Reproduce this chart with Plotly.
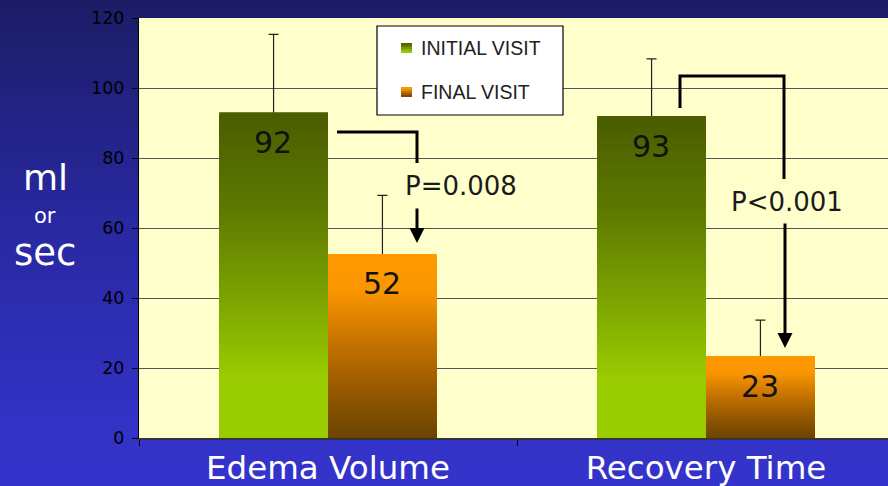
import base64
import plotly.graph_objects as go

# ---------------- data ----------------
categories = ["Edema Volume", "Recovery Time"]
series_names = ["INITIAL VISIT", "FINAL VISIT"]
initial_values = [93.1, 92.0]
final_values = [52.6, 23.4]
initial_err = [22.2, 16.3]
final_err = [16.7, 10.3]
initial_labels = ["92", "93"]
final_labels = ["52", "23"]
p_labels = ["P=0.008", "P<0.001"]
y_ticks = [0, 20, 40, 60, 80, 100, 120]

# ---------------- layout geometry ----------------
W, H = 888, 486
ML, MR, MT, MB = 139, 0, 18, 48
PW, PH = W - ML - MR, H - MT - MB
X_UNIT = 378.0
x_max = -0.5 + PW / X_UNIT
BAR_W = 0.288


def px_x(px):
    return (px - ML) / PW


def px_y(py):
    return (H - MB - py) / PH


def dx(px):  # pixel -> category-axis data units
    return -0.5 + (px - ML) / X_UNIT


def dy(py):  # pixel -> y data units
    return (H - MB - py) / PH * 120.0


def hex2rgb(h):
    h = h.lstrip("#")
    return tuple(int(h[i:i + 2], 16) for i in (0, 2, 4))


def grad(stops, t):
    for (t0, c0), (t1, c1) in zip(stops[:-1], stops[1:]):
        if t0 <= t <= t1:
            f = 0 if t1 == t0 else (t - t0) / (t1 - t0)
            a, b = hex2rgb(c0), hex2rgb(c1)
            return "rgb(%d,%d,%d)" % tuple(round(a[i] + (b[i] - a[i]) * f) for i in range(3))
    return "rgb(%d,%d,%d)" % hex2rgb(stops[-1][1])


green_stops = [(0.0, "#4a5c00"), (0.3, "#5e7a00"), (0.6, "#80a800"), (0.82, "#99cc00"), (1.0, "#99cc00")]
orange_stops = [(0.0, "#ff9900"), (0.2, "#fa9600"), (0.5, "#c27100"), (0.76, "#925700"), (1.0, "#6b4400")]

N = 90
fig = go.Figure()

# error bars (drawn first so bars cover the lower cap)
for vals, errs, off in [(initial_values, initial_err, -BAR_W), (final_values, final_err, 0.0)]:
    fig.add_trace(go.Bar(
        x=categories, y=vals, width=BAR_W, offset=off,
        marker=dict(color="rgba(0,0,0,0)", line=dict(width=0)),
        error_y=dict(type="data", array=errs, arrayminus=[3, 3], symmetric=False,
                     color="#222222", thickness=1.2, width=5),
        showlegend=False, hoverinfo="skip"))

# gradient bars: nested bars, tallest first
for vals, stops, off, name in [(initial_values, green_stops, -BAR_W, series_names[0]),
                               (final_values, orange_stops, 0.0, series_names[1])]:
    xs, ys, cols = [], [], []
    for cat, v in zip(categories, vals):
        for k in range(N):
            xs.append(cat)
            ys.append(v * (N - k) / N)
            cols.append(grad(stops, (k + 0.5) / N))
    fig.add_trace(go.Bar(x=xs, y=ys, width=BAR_W, offset=off, name=name,
                         marker=dict(color=cols, line=dict(width=0)),
                         showlegend=False, hoverinfo="skip"))

annotations = []
# value labels
for labels, vals, shift in [(initial_labels, initial_values, -55), (final_labels, final_values, 54)]:
    for cat, lab, v in zip(categories, labels, vals):
        annotations.append(dict(x=cat, y=v, xref="x", yref="y", text=lab, showarrow=False,
                                xshift=shift, yshift=-30, yanchor="middle", xanchor="center",
                                font=dict(family="DejaVu Sans", size=30, color="#111111")))

# p-value texts
annotations.append(dict(x=dx(461), y=dy(186), xref="x", yref="y", text=p_labels[0], showarrow=False,
                        xanchor="center", yanchor="middle",
                        font=dict(family="DejaVu Sans", size=26, color="#1a1a1a")))
annotations.append(dict(x=dx(787), y=dy(202), xref="x", yref="y", text=p_labels[1], showarrow=False,
                        xanchor="center", yanchor="middle",
                        font=dict(family="DejaVu Sans", size=26, color="#1a1a1a")))
# arrows
for xa, ytail, ytip in [(417, 207, 243), (785, 222, 348)]:
    annotations.append(dict(x=dx(xa), y=dy(ytip), ax=dx(xa), ay=dy(ytail), xref="x", yref="y",
                            axref="x", ayref="y", text="", showarrow=True, arrowhead=2,
                            arrowsize=1, arrowwidth=3, arrowcolor="#000000", standoff=0))

# y title
annotations += [
    dict(x=px_x(45), y=px_y(177), xref="paper", yref="paper", text="ml", showarrow=False,
         xanchor="center", yanchor="middle",
         font=dict(family="DejaVu Sans", size=36, color="white")),
    dict(x=px_x(45), y=px_y(216), xref="paper", yref="paper", text="or", showarrow=False,
         xanchor="center", yanchor="middle",
         font=dict(family="DejaVu Sans", size=21, color="white")),
    dict(x=px_x(45), y=px_y(252), xref="paper", yref="paper", text="sec", showarrow=False,
         xanchor="center", yanchor="middle",
         font=dict(family="DejaVu Sans", size=37, color="white")),
]

# legend (manual)
shapes = [
    dict(type="rect", xref="paper", yref="paper", x0=0, x1=1, y0=0, y1=1,
         fillcolor="#ffffcc", line=dict(width=0), layer="below"),
    # brackets
    dict(type="path", xref="x", yref="y",
         path="M %f,%f L %f,%f L %f,%f" % (dx(337), dy(132), dx(417), dy(132), dx(417), dy(163)),
         line=dict(color="#000000", width=3)),
    dict(type="path", xref="x", yref="y",
         path="M %f,%f L %f,%f L %f,%f L %f,%f" % (dx(680), dy(108), dx(680), dy(76),
                                                    dx(784), dy(76), dx(784), dy(179)),
         line=dict(color="#000000", width=3)),
    dict(type="rect", xref="paper", yref="paper", x0=px_x(377), x1=px_x(563), y0=px_y(115), y1=px_y(26),
         fillcolor="white", line=dict(color="#000000", width=1.2)),
]
for stops, ytop in [(green_stops, 43), (orange_stops, 87)]:
    n = 5
    for k in range(n):
        shapes.append(dict(type="rect", xref="paper", yref="paper", x0=px_x(401), x1=px_x(412),
                           y0=px_y(ytop + 10 * (k + 1) / n), y1=px_y(ytop + 10 * k / n),
                           fillcolor=grad(stops, (k + 0.5) / n), line=dict(width=0)))
for name, yc in zip(series_names, [48, 92]):
    annotations.append(dict(x=px_x(419), y=px_y(yc), xref="paper", yref="paper", text=name,
                            showarrow=False, xanchor="left", yanchor="middle",
                            font=dict(family="Liberation Sans", size=19.5, color="#222222")))

svg = ('<svg xmlns="http://www.w3.org/2000/svg" width="888" height="486">'
       '<defs><linearGradient id="g" x1="0" y1="0" x2="0" y2="1">'
       '<stop offset="0" stop-color="#1c1c66"/><stop offset="0.45" stop-color="#2828a0"/>'
       '<stop offset="0.85" stop-color="#3232c4"/><stop offset="1" stop-color="#3434cc"/>'
       '</linearGradient></defs><rect width="888" height="486" fill="url(#g)"/></svg>')
bg_src = "data:image/svg+xml;base64," + base64.b64encode(svg.encode()).decode()

fig.update_layout(
    width=W, height=H, margin=dict(l=ML, r=MR, t=MT, b=MB, pad=0, autoexpand=False),
    barmode="overlay", showlegend=False,
    paper_bgcolor="#2a2aa0", plot_bgcolor="rgba(0,0,0,0)",
    images=[dict(source=bg_src, xref="paper", yref="paper", x=-ML / PW, y=1 + MT / PH,
                 sizex=W / PW, sizey=H / PH, xanchor="left", yanchor="top",
                 sizing="stretch", layer="below")],
    shapes=shapes, annotations=annotations,
    xaxis=dict(type="category", range=[-0.5, x_max], tickson="boundaries", ticks="outside",
               ticklen=6, tickcolor="#000000", tickwidth=1, showline=True, linecolor="#333333",
               linewidth=2, showgrid=False, zeroline=False, ticklabelstandoff=0, automargin=False,
               tickfont=dict(family="DejaVu Sans", size=32.5, color="white")),
    yaxis=dict(range=[0, 120], tickvals=y_ticks, ticks="outside", ticklen=6, tickcolor="#000000",
               showline=True, linecolor="#000000", linewidth=1, showgrid=True, gridcolor="#555555",
               gridwidth=1, zeroline=False, ticklabelstandoff=4, automargin=False,
               tickfont=dict(family="DejaVu Sans", size=17.5, color="#000000")),
)

fig.write_html("out.html")
